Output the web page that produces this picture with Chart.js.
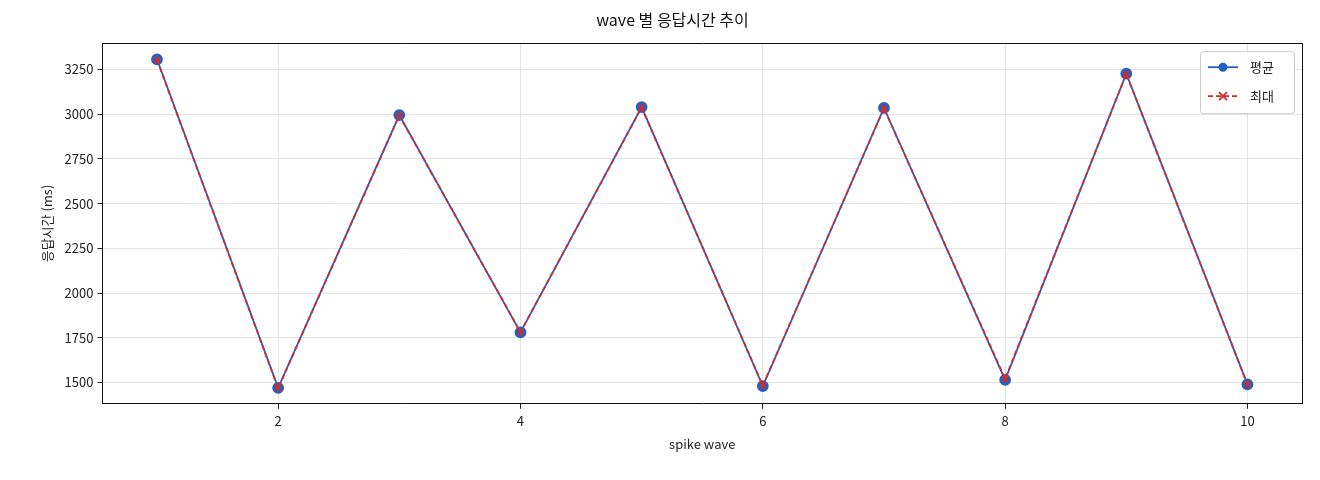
<!DOCTYPE html>
<html><head><meta charset="utf-8">
<script src="https://cdn.jsdelivr.net/npm/chart.js@4"></script>
<style>body{margin:0;background:#fff}#w{width:1320px;height:480px}</style>
</head><body><div id="w"><canvas id="c"></canvas></div>
<script>
const waves=[1,2,3,4,5,6,7,8,9,10];
const avgMs=[3307,1470,2995,1780,3040,1480,3035,1515,3227,1490];
const maxMs=[3305,1468,2993,1782,3038,1483,3033,1520,3225,1488];
const yTicks=[1500,1750,2000,2250,2500,2750,3000,3250];
const xTicks=[2,4,6,8,10];
const F="'Noto Sans CJK KR','Noto Sans',sans-serif";
const legendPlugin={id:'lg',afterDraw(ch){
 const c=ch.ctx,a=ch.chartArea;const x=a.right-102,y=a.top+8,w=94,h=62;
 c.save();c.fillStyle='rgba(255,255,255,0.9)';c.strokeStyle='#ccc';c.lineWidth=1;
 c.beginPath();c.roundRect(x+.5,y+.5,w,h,3);c.fill();c.stroke();
 const items=[['평균','#1f62c2',[],'circle'],['최대','#d62a2a',[5,3],'x']];
 items.forEach((it,i)=>{const yy=y+16+i*29;c.strokeStyle=it[1];c.lineWidth=1.8;c.setLineDash(it[2]);
  c.beginPath();c.moveTo(x+8,yy);c.lineTo(x+38,yy);c.stroke();c.setLineDash([]);
  if(it[3]=='circle'){c.fillStyle=it[1];c.beginPath();c.arc(x+23,yy,4.5,0,7);c.fill();}
  else{c.beginPath();c.moveTo(x+19,yy-4);c.lineTo(x+27,yy+4);c.moveTo(x+27,yy-4);c.lineTo(x+19,yy+4);c.stroke();}
  c.fillStyle='#222';c.font='13px '+F;c.textBaseline='middle';c.fillText(it[0],x+50,yy);});
 c.restore();}};
new Chart(document.getElementById('c'),{type:'line',
 data:{datasets:[
  {label:'평균',order:2,data:waves.map((w,i)=>({x:w,y:avgMs[i]})),borderColor:'#1f62c2',backgroundColor:'#1f62c2',borderWidth:1.8,pointRadius:5,pointStyle:'circle',tension:0},
  {label:'최대',order:1,data:waves.map((w,i)=>({x:w,y:maxMs[i]})),borderColor:'#d62a2a',backgroundColor:'#d62a2a',borderWidth:1.8,borderDash:[5,3],pointRadius:4.5,pointStyle:'crossRot',pointBorderWidth:1.8,tension:0}]},
 plugins:[legendPlugin],
 options:{responsive:true,maintainAspectRatio:false,animation:false,
  layout:{padding:{left:35,right:10,top:0,bottom:24}},
  plugins:{legend:{display:false},tooltip:{enabled:false},
   title:{display:true,text:'wave 별 응답시간 추이',color:'#111',font:{family:F,size:16,weight:'normal'},padding:{top:10,bottom:6}}},
  scales:{
   x:{type:'linear',min:0.55,max:10.45,afterBuildTicks:s=>{s.ticks=xTicks.map(v=>({value:v}))},
    grid:{color:'#e4e4e4',tickColor:'#222',tickLength:5},border:{color:'#111',width:1},
    ticks:{color:'#222',font:{family:F,size:13},padding:4,callback:v=>String(v)},
    title:{display:true,text:'spike wave',color:'#222',font:{family:F,size:13},padding:{top:4}}},
   y:{min:1381,max:3397,afterBuildTicks:s=>{s.ticks=yTicks.map(v=>({value:v}))},
    grid:{color:'#e4e4e4',tickColor:'#222',tickLength:5},border:{color:'#111',width:1},
    ticks:{color:'#222',font:{family:F,size:13},padding:4,callback:v=>String(v)},
    title:{display:true,text:'응답시간 (ms)',color:'#222',font:{family:F,size:13},padding:{bottom:6}}},
   x2:{position:'top',type:'linear',display:true,grid:{display:false},ticks:{display:false},border:{color:'#111'}},
   y2:{position:'right',display:true,grid:{display:false},ticks:{display:false},border:{color:'#111'}}
  }}});
</script></body></html>
